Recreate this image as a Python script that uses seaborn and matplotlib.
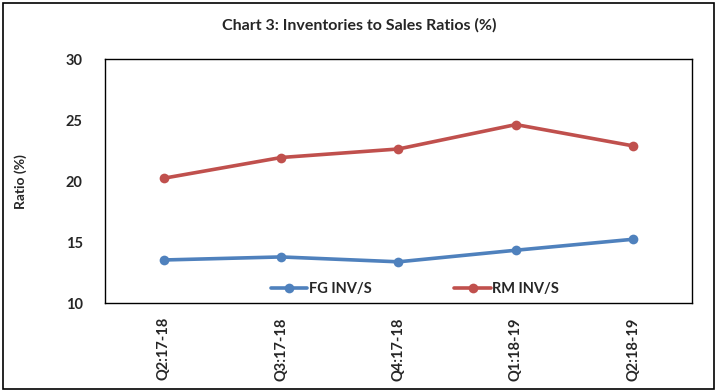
import matplotlib
matplotlib.use("Agg")
import matplotlib.pyplot as plt
import pandas as pd
import seaborn as sns
from matplotlib.patches import Rectangle

quarters = ["Q2:17-18", "Q3:17-18", "Q4:17-18", "Q1:18-19", "Q2:18-19"]
fg_inv_s = [13.55, 13.8, 13.4, 14.35, 15.25]
rm_inv_s = [20.25, 21.95, 22.65, 24.65, 22.9]
series_names = ["FG INV/S", "RM INV/S"]
colors = ["#4F81BD", "#C0504D"]

df = pd.DataFrame({"quarter": quarters, "FG INV/S": fg_inv_s, "RM INV/S": rm_inv_s})
long = df.melt(id_vars="quarter", var_name="series", value_name="ratio")

sns.set_theme(style="white")
plt.rcParams["font.family"] = ["Lato", "DejaVu Sans"]

fig = plt.figure(figsize=(7.18, 3.92), dpi=100)
ax = fig.add_axes([0.1462, 0.2263, 0.8176, 0.6224])

sns.lineplot(
    data=long, x="quarter", y="ratio", hue="series", hue_order=series_names,
    palette=colors, marker="o", markersize=7, markeredgewidth=0,
    linewidth=2.6, sort=False, ax=ax,
)

ax.set_ylim(10, 30)
ax.set_yticks([10, 15, 20, 25, 30])
ax.set_xlim(-0.5, len(quarters) - 0.5)
ax.set_xlabel("")
ax.set_ylabel("Ratio (%)", fontsize=10, fontweight="bold", labelpad=28)
ax.tick_params(axis="y", length=0, labelsize=10.5, pad=16)
ax.tick_params(axis="x", length=0, labelsize=10.5, pad=10)
plt.setp(ax.get_xticklabels(), rotation=90, fontweight="bold")
plt.setp(ax.get_yticklabels(), fontweight="bold")
for spine in ax.spines.values():
    spine.set_visible(True)
    spine.set_color("black")
    spine.set_linewidth(1.0)

leg = ax.legend(
    loc="lower center", bbox_to_anchor=(0.528, -0.025), ncol=2, frameon=False,
    fontsize=10.5, handlelength=2.5, columnspacing=5.7, handletextpad=0.1,
)
for t in leg.get_texts():
    t.set_fontweight("bold")

fig.text(0.5, 0.935, "Chart 3: Inventories to Sales Ratios (%)",
         ha="center", va="center", fontsize=11.5, fontweight="bold")

fig.patches.append(Rectangle((0.004, 0.008), 0.99, 0.984, transform=fig.transFigure,
                             fill=False, edgecolor="black", linewidth=1.2))

fig.savefig("out.png", dpi=100)
